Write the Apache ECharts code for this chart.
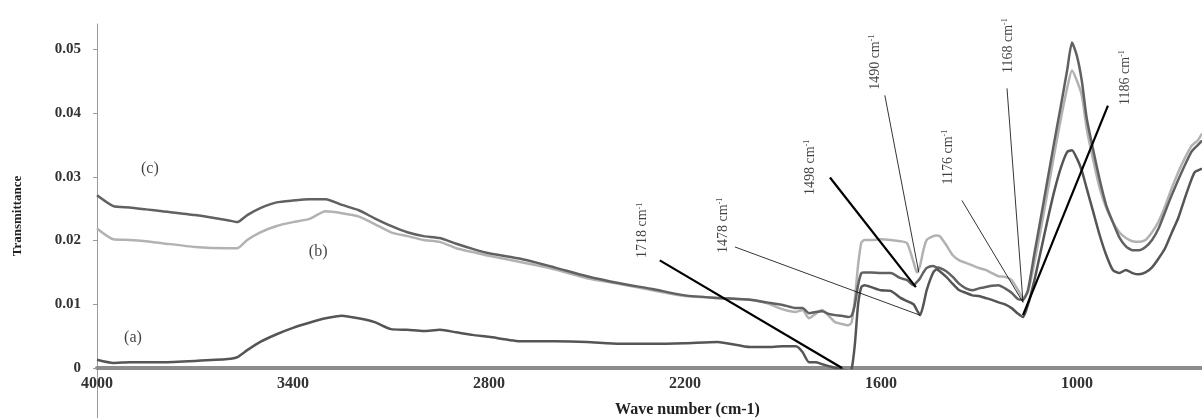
<!DOCTYPE html>
<html>
<head>
<meta charset="utf-8">
<script src="https://cdn.jsdelivr.net/npm/echarts@6/dist/echarts.min.js"></script>
<style>
  html, body { margin: 0; padding: 0; background: #fff; }
  #chart { width: 1202px; height: 418px; }
</style>
</head>
<body>
<div id="chart"></div>
<script>
// wave numbers (cm-1)
const wavenumbers = [
  4000, 3950, 3900, 3850, 3800, 3700, 3600, 3570, 3540, 3500,
  3450, 3400, 3350, 3300, 3250, 3200, 3150, 3100, 3050, 3000,
  2950, 2900, 2850, 2800, 2700, 2600, 2500, 2400, 2300, 2200,
  2100, 2000, 1950, 1900, 1860, 1840, 1820, 1800, 1780, 1760,
  1740, 1720, 1700, 1690, 1680, 1670, 1660, 1650, 1630, 1600,
  1570, 1540, 1520, 1500, 1490, 1480, 1470, 1460, 1440, 1430,
  1420, 1400, 1380, 1360, 1340, 1320, 1300, 1280, 1260, 1240,
  1220, 1200, 1180, 1165, 1150, 1130, 1110, 1090, 1070, 1050,
  1030, 1015, 1000, 985, 970, 950, 930, 910, 890, 870,
  850, 830, 810, 790, 770, 750, 730, 710, 690, 670,
  650, 640, 630, 617
];

// (a)
const transA = [
  0.0013, 0.0008, 0.0009, 0.0009, 0.0009, 0.0011, 0.0014, 0.0017, 0.0028, 0.0041,
  0.0053, 0.0063, 0.0071, 0.0078, 0.0082, 0.0078, 0.0072, 0.0061, 0.0060, 0.0058,
  0.0060, 0.0056, 0.0052, 0.0049, 0.0042, 0.0042, 0.0041, 0.0038, 0.0038, 0.0039,
  0.0041, 0.0033, 0.0033, 0.0034, 0.0034, 0.0025, 0.0009, 0.0009, 0.0006, 0.0003,
  0.0000, -0.0002, -0.0005, -0.0002, 0.0036, 0.0099, 0.0127, 0.0130, 0.0127, 0.0122,
  0.0121, 0.0110, 0.0105, 0.0100, 0.0091, 0.0083, 0.0099, 0.0122, 0.0150, 0.0155,
  0.0152, 0.0143, 0.0132, 0.0122, 0.0118, 0.0114, 0.0113, 0.0110, 0.0107, 0.0103,
  0.0100, 0.0094, 0.0085, 0.0080, 0.0099, 0.0138, 0.0185, 0.0232, 0.0276, 0.0313,
  0.0339, 0.0342, 0.0329, 0.0310, 0.0282, 0.0245, 0.0208, 0.0177, 0.0154, 0.0149,
  0.0154, 0.0149, 0.0147, 0.0150, 0.0158, 0.0172, 0.0188, 0.0212, 0.0235, 0.0266,
  0.0295, 0.0307, 0.0310, 0.0313
];

// (b)
const transB = [
  0.0219, 0.0202, 0.0201, 0.0199, 0.0196, 0.0190, 0.0188, 0.0188, 0.0201, 0.0213,
  0.0223, 0.0229, 0.0234, 0.0246, 0.0243, 0.0238, 0.0226, 0.0213, 0.0207, 0.0201,
  0.0198, 0.0188, 0.0182, 0.0176, 0.0166, 0.0155, 0.0141, 0.0132, 0.0122, 0.0113,
  0.0110, 0.0107, 0.0102, 0.0092, 0.0088, 0.0091, 0.0078, 0.0085, 0.0091, 0.0082,
  0.0072, 0.0069, 0.0067, 0.0071, 0.0107, 0.0161, 0.0197, 0.0201, 0.0201, 0.0202,
  0.0201, 0.0199, 0.0196, 0.0166, 0.0150, 0.0161, 0.0185, 0.0201, 0.0207, 0.0208,
  0.0207, 0.0193, 0.0177, 0.0169, 0.0165, 0.0161, 0.0157, 0.0154, 0.0149, 0.0144,
  0.0143, 0.0138, 0.0122, 0.0110, 0.0119, 0.0166, 0.0219, 0.0276, 0.0334, 0.0389,
  0.0439, 0.0467, 0.0451, 0.0428, 0.0376, 0.0326, 0.0282, 0.0251, 0.0229, 0.0213,
  0.0204, 0.0199, 0.0198, 0.0201, 0.0213, 0.0230, 0.0254, 0.0282, 0.0307, 0.0329,
  0.0348, 0.0353, 0.0357, 0.0368
];

// (c)
const transC = [
  0.0271, 0.0254, 0.0252, 0.0249, 0.0246, 0.0240, 0.0232, 0.0229, 0.0240, 0.0251,
  0.0260, 0.0263, 0.0265, 0.0265, 0.0256, 0.0248, 0.0235, 0.0223, 0.0213, 0.0207,
  0.0204, 0.0195, 0.0187, 0.0180, 0.0171, 0.0158, 0.0144, 0.0133, 0.0124, 0.0114,
  0.0110, 0.0107, 0.0103, 0.0099, 0.0094, 0.0094, 0.0086, 0.0088, 0.0089, 0.0085,
  0.0083, 0.0082, 0.0080, 0.0082, 0.0099, 0.0130, 0.0149, 0.0150, 0.0150, 0.0149,
  0.0149, 0.0141, 0.0138, 0.0130, 0.0135, 0.0141, 0.0150, 0.0157, 0.0160, 0.0158,
  0.0157, 0.0152, 0.0143, 0.0132, 0.0125, 0.0122, 0.0125, 0.0127, 0.0129, 0.0130,
  0.0125, 0.0118, 0.0108, 0.0107, 0.0122, 0.0180, 0.0237, 0.0295, 0.0353, 0.0409,
  0.0467, 0.0511, 0.0490, 0.0451, 0.0392, 0.0342, 0.0295, 0.0255, 0.0229, 0.0205,
  0.0191, 0.0185, 0.0185, 0.0190, 0.0201, 0.0219, 0.0245, 0.0271, 0.0295, 0.0318,
  0.0339, 0.0345, 0.0350, 0.0357
];

const xTicks = [4000, 3400, 2800, 2200, 1600, 1000];
const yTicks = [0, 0.01, 0.02, 0.03, 0.04, 0.05];

// peak callouts: label anchor, leader line start/end (data units)
const peaks = [
  { name: '1718', at: [2329, 0.0216], from: [2277, 0.0169], to: [1719, 0.0000], bold: true },
  { name: '1478', at: [2084, 0.0224], from: [2047, 0.0190], to: [1481, 0.0083], bold: false },
  { name: '1498', at: [1817, 0.0315], from: [1756, 0.0299], to: [1493, 0.0127], bold: true },
  { name: '1490', at: [1618, 0.0480], from: [1588, 0.0428], to: [1484, 0.0150], bold: false },
  { name: '1176', at: [1395, 0.0331], from: [1352, 0.0263], to: [1165, 0.0103], bold: false },
  { name: '1168', at: [1211, 0.0506], from: [1214, 0.0439], to: [1165, 0.0103], bold: false },
  { name: '1186', at: [853, 0.0456], from: [905, 0.0412], to: [1165, 0.0083], bold: true }
];

const curveTags = [
  { name: '(c)', at: [3838, 0.0313] },
  { name: '(b)', at: [3323, 0.0182] },
  { name: '(a)', at: [3890, 0.0047] }
];

const serif = 'Liberation Serif';
const zip = (ys) => wavenumbers.map((w, i) => [w, ys[i]]);

const chart = echarts.init(document.getElementById('chart'));

const spectrum = (name, ys, color) => ({
  name: name,
  type: 'line',
  data: zip(ys),
  showSymbol: false,
  smooth: 0.2,
  lineStyle: { color: color, width: 2.5 },
  silent: true,
  z: 3
});

const options = {
  animation: false,
  grid: { left: 97, right: 0, top: 24, bottom: 50, outerBoundsMode: 'none' },
  xAxis: {
    type: 'value',
    inverse: true,
    min: 617,
    max: 4000,
    name: 'Wave number (cm-1)',
    nameLocation: 'middle',
    nameGap: 34,
    nameTextStyle: {
      fontFamily: serif, fontWeight: 'bold', fontSize: 16, color: '#222',
      padding: [0, 0, 0, 76]
    },
    axisLine: { lineStyle: { color: '#8c8c8c', width: 4 } },
    axisTick: { show: false },
    splitLine: { show: false },
    axisLabel: {
      customValues: xTicks,
      formatter: (v) => String(v),
      fontFamily: serif, fontWeight: 'bold', fontSize: 16, color: '#333',
      margin: 8
    }
  },
  yAxis: {
    type: 'value',
    min: 0,
    max: 0.054,
    name: 'Transmittance',
    nameLocation: 'middle',
    nameGap: 73,
    nameTextStyle: {
      fontFamily: serif, fontWeight: 'bold', fontSize: 13, color: '#222',
      padding: [0, 40, 0, 0]
    },
    axisLine: { show: true, lineStyle: { color: '#9a9a9a', width: 1 } },
    axisTick: { show: true, customValues: yTicks, length: 4, lineStyle: { color: '#9a9a9a' } },
    splitLine: { show: false },
    axisLabel: {
      customValues: yTicks,
      fontFamily: serif, fontWeight: 'bold', fontSize: 15, color: '#333',
      margin: 16
    }
  },
  graphic: [
    {
      type: 'line',
      shape: { x1: 97.5, y1: 370, x2: 97.5, y2: 418 },
      style: { stroke: '#9a9a9a', lineWidth: 1 },
      silent: true
    }
  ],
  series: [
    spectrum('(b)', transB, '#b2b2b2'),
    spectrum('(c)', transC, '#616161'),
    spectrum('(a)', transA, '#555555'),
    {
      name: 'peaks',
      type: 'scatter',
      symbolSize: 0,
      silent: true,
      z: 5,
      data: peaks.map((p) => ({ name: p.name, value: p.at })),
      label: {
        show: true,
        position: 'inside',
        rotate: 90,
        formatter: (p) => '{n|' + p.name + ' cm}{s|-1}',
        rich: {
          n: { fontFamily: serif, fontSize: 14, color: '#111' },
          s: { fontFamily: serif, fontSize: 8, color: '#111', verticalAlign: 'top' }
        }
      },
      markLine: {
        silent: true,
        symbol: ['none', 'none'],
        label: { show: false },
        data: peaks.map((p) => [
          { coord: p.from, lineStyle: { color: '#000', type: 'solid', width: p.bold ? 2.2 : 0.8 } },
          { coord: p.to }
        ])
      }
    },
    {
      name: 'tags',
      type: 'scatter',
      symbolSize: 0,
      silent: true,
      data: curveTags.map((t) => ({ name: t.name, value: t.at })),
      label: {
        show: true,
        position: 'inside',
        formatter: '{b}',
        fontFamily: serif,
        fontSize: 16,
        color: '#111'
      }
    }
  ]
};

chart.setOption(options);
</script>
</body>
</html>
